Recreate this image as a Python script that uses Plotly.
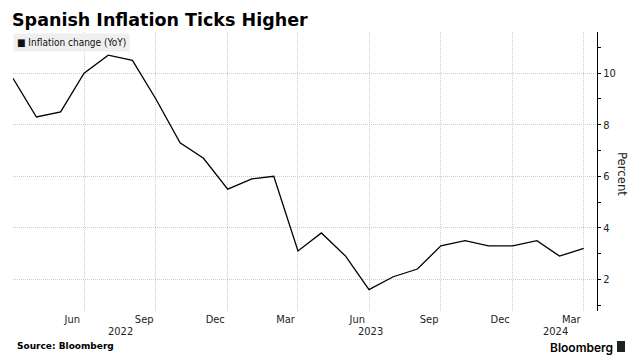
import pandas as pd
import plotly.graph_objects as go

# ---- data ----
dates = pd.date_range(start="2022-03-31", periods=25, freq="ME")
inflation = [9.8, 8.3, 8.5, 10.0, 10.7, 10.5, 9.0, 7.3, 6.7, 5.5, 5.9, 6.0,
             3.1, 3.8, 2.9, 1.6, 2.1, 2.4, 3.3, 3.5, 3.3, 3.3, 3.5, 2.9, 3.2]
series_name = "Inflation change (YoY)"
y_major = [2, 4, 6, 8, 10]
y_minor = [1, 3, 5, 7, 9, 11]
years = [2022, 2023, 2024]

x_start = dates[0]
x_end = dates[-1] + pd.Timedelta(days=17)

quarter_ends = [d for d in dates if d.month in (3, 6, 9, 12)]
tick_vals = [d.replace(day=15) for d in quarter_ends]
tick_text = [d.strftime("%b") for d in quarter_ends]

FONT = "DejaVu Sans Condensed, DejaVu Sans, Liberation Sans"
GRID = "#cdcdcd"
DASH = "1px,1px"

fig = go.Figure()
fig.add_trace(go.Scatter(x=dates, y=inflation, mode="lines", name=series_name,
                         line=dict(color="#000000", width=1.3), showlegend=False,
                         hoverinfo="skip"))

fig.update_layout(
    width=644, height=362,
    margin=dict(l=13, r=47, t=32, b=51),
    paper_bgcolor="white", plot_bgcolor="white",
    title=dict(text="<b>Spanish Inflation Ticks Higher</b>",
               font=dict(family="DejaVu Sans", size=17.5, color="#000"),
               xref="container", x=12/644, xanchor="left",
               yref="container", y=1 - 20/362, yanchor="middle"),
    xaxis=dict(
        type="date", range=[x_start, x_end],
        tickmode="array", tickvals=tick_vals, ticktext=tick_text,
        showgrid=False, ticks="", showline=False, zeroline=False,
        tickfont=dict(family=FONT, size=11, color="#222"),
        minor=dict(tickmode="array", tickvals=quarter_ends, showgrid=True,
                   gridcolor=GRID, griddash=DASH, gridwidth=1, ticks=""),
    ),
    yaxis=dict(
        side="right", range=[0.77, 11.6],
        tickmode="array", tickvals=y_major,
        showgrid=True, gridcolor=GRID, griddash=DASH, gridwidth=1,
        showline=True, linecolor="#000", linewidth=1,
        ticks="outside", ticklen=3, tickcolor="#000",
        zeroline=False,
        tickfont=dict(family=FONT, size=11, color="#222"),
        minor=dict(tickmode="array", tickvals=y_minor, ticks="outside",
                   ticklen=3, tickcolor="#000", showgrid=False),
    ),
)

# legend box
fig.add_annotation(xref="paper", yref="paper", x=0.0, y=0.998,
                   xanchor="left", yanchor="top", showarrow=False,
                   text="■ " + series_name, bgcolor="#efefef", borderpad=3,
                   font=dict(family=FONT, size=10, color="#111"))

# year labels centered on each year's visible span
for yr in years:
    s = max(pd.Timestamp(f"{yr}-01-01"), x_start)
    e = min(pd.Timestamp(f"{yr}-12-31"), x_end)
    c = s + (e - s) / 2
    fig.add_annotation(xref="x", yref="paper", x=c, y=-(331.5-311)/279, yanchor="middle",
                       showarrow=False, text=str(yr), borderpad=0,
                       font=dict(family=FONT, size=11, color="#222"))

# axis title
fig.add_annotation(xref="paper", yref="paper", x=(622.5-13)/584, y=0.493, textangle=90,
                   xanchor="center", yanchor="middle",
                   showarrow=False, text="Percent",
                   font=dict(family=FONT, size=13, color="#222"))

# source and branding
fig.add_annotation(xref="paper", yref="paper", x=0.003, y=-(346-311)/279, xanchor="left",
                   yanchor="middle", showarrow=False, text="<b>Source: Bloomberg</b>",
                   font=dict(family="DejaVu Sans", size=9, color="#000"))
fig.add_annotation(xref="paper", yref="paper", x=(614-13)/584, y=-(347.5-311)/279,
                   xanchor="right", yanchor="middle", showarrow=False, text="Bloomberg",
                   borderpad=0,
                   font=dict(family="Inter, Liberation Sans", size=12, color="#000",
                             weight=600))
fig.add_shape(type="rect", xref="paper", yref="paper",
              x0=(617-13)/584, x1=(625-13)/584, y0=-(352-311)/279, y1=-(341-311)/279,
              fillcolor="#222", line=dict(width=0))

fig.write_html("out.html", post_script="document.body.style.margin='0';",
               config={"displayModeBar": False})
